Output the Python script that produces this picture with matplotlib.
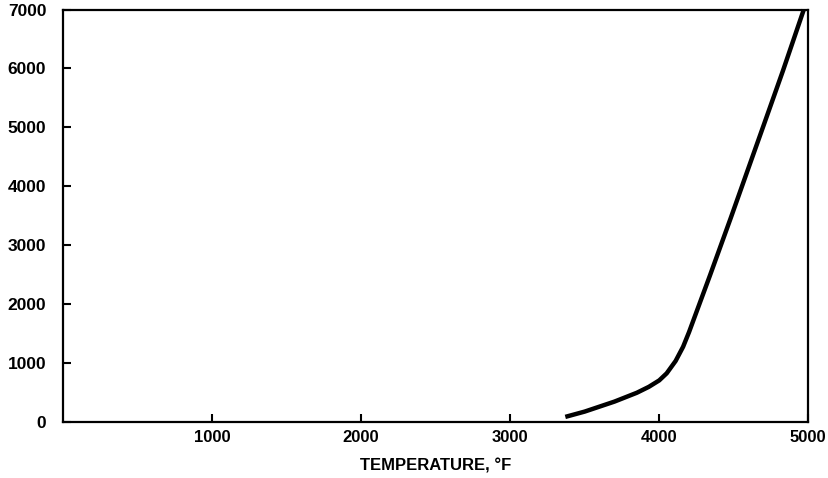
import matplotlib
matplotlib.use("Agg")
import matplotlib.pyplot as plt

# values
temperature_f = [3370, 3500, 3700, 3850, 3930, 4000, 4050, 4110, 4160, 4200,
                 4270, 4340, 4410, 4480, 4550, 4620, 4700, 4830, 4970]
value = [80, 170, 340, 490, 590, 700, 820, 1030, 1270, 1520,
         2000, 2480, 2970, 3460, 3960, 4460, 5030, 5960, 7000]

x_ticks = [1000, 2000, 3000, 4000, 5000]
y_ticks = [0, 1000, 2000, 3000, 4000, 5000, 6000, 7000]

plt.rcParams['font.family'] = ['Liberation Sans', 'DejaVu Sans']

fig = plt.figure(figsize=(8.29, 4.78), dpi=100)
ax = fig.add_axes([0.076, 0.118, 0.899, 0.862])

ax.plot(temperature_f, value, color="black", linewidth=3.2,
        solid_capstyle="butt", solid_joinstyle="round", clip_on=False)

ax.set_xlim(0, 5000)
ax.set_ylim(0, 7000)
ax.set_xticks(x_ticks)
ax.set_yticks(y_ticks)
ax.set_xticklabels([str(t) for t in x_ticks], fontsize=12, fontweight="bold")
ax.set_yticklabels([str(t) for t in y_ticks], fontsize=12.5, fontweight="bold")
ax.tick_params(direction="in", length=6, width=1.5, colors="black", pad=6)
ax.tick_params(axis="y", pad=12)

for s in ax.spines.values():
    s.set_linewidth(1.6)

ax.set_xlabel("TEMPERATURE, °F", fontsize=12, fontweight="bold", labelpad=10)

fig.savefig("out.png", dpi=100)
